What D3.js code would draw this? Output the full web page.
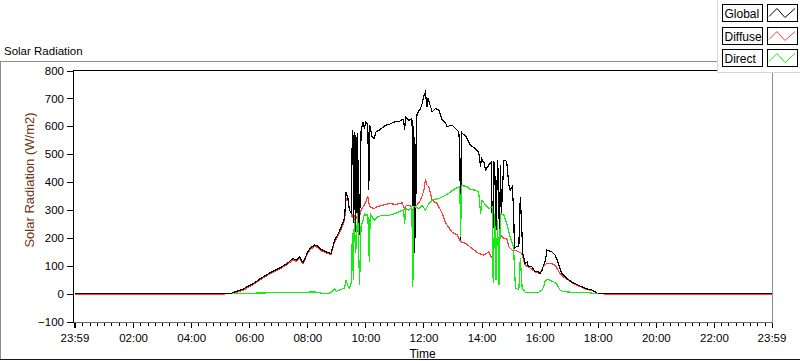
<!DOCTYPE html>
<html>
<head>
<meta charset="utf-8">
<script src="https://cdn.jsdelivr.net/npm/d3@7"></script>
<style>
body { margin: 0; background: #fff; }
svg { display: block; font-family: "Liberation Sans", Arial, sans-serif; }
</style>
</head>
<body>
<div id="chart"></div>
<script>
// chart texts
var chartLabel = "Solar Radiation";
var yTitle = "Solar Radiation (W/m2)";
var xTitle = "Time";
var seriesNames = ["Global", "Diffuse", "Direct"];

// axis ticks (x in minutes from midnight, first one is 23:59 of the day before)
var xTickMinutes = [-1, 120, 240, 360, 480, 600, 720, 840, 960, 1080, 1200, 1320, 1439];
var xTickLabels = ["23:59", "02:00", "04:00", "06:00", "08:00", "10:00", "12:00", "14:00", "16:00", "18:00", "20:00", "22:00", "23:59"];
var yTicks = [-100, 0, 100, 200, 300, 400, 500, 600, 700, 800];

// [time, W/m2]; null = gap in the trace
var globalData = [
  ["00:00",0],["05:20",0],["05:24",2],["05:47",16],["06:08",36],["06:25",56],["06:42",74],["07:03",92],
  ["07:20",110],["07:30",126],["07:37",120],["07:44",132],["07:51",110],["07:58",138],["08:05",162],
  ["08:15",174],["08:22",170],["08:29",158],["08:39",150],["08:49",144],["08:56",190],["09:06",222],
  ["09:17",270],["09:20",365],["09:24",340],["09:27",300],["09:31",287],["09:33",586],["09:35",560],
  ["09:36",252],["09:37",580],["09:38",300],["09:39",570],["09:40",220],["09:42",560],["09:43",280],
  ["09:44",575],["09:46",204],["09:48",230],["09:51",580],["09:55",616],["09:58",592],["10:01",616],
  ["10:05",604],["10:07",371],["10:09",604],["10:14",560],["10:18",556],["10:22",580],["10:29",586],
  ["10:35",595],["10:42",604],["10:49",606],["10:55",612],["11:02",616],["11:09",616],["11:16",624],
  ["11:19",624],["11:21",586],["11:23",634],["11:30",622],["11:36",628],["11:38",520],["11:39",150],
  ["11:40",600],["11:41",144],["11:42",560],["11:44",200],["11:45",620],["11:47",646],["11:54",664],
  ["11:57",680],["12:01",711],["12:04",723],["12:06",690],["12:07",669],["12:09",700],["12:11",690],
  ["12:18",652],["12:25",664],["12:32",658],["12:39",622],["12:46",610],["12:49",598],["12:56",604],
  ["12:59",604],["13:06",592],["13:10",586],["13:13",580],["13:15",514],["13:17",192],["13:18",580],
  ["13:20",574],["13:27",566],["13:30",556],["13:37",532],["13:47",520],["13:54",508],["13:58",455],
  ["14:00",490],["14:01",478],["14:05",470],["14:08",443],["14:15",461],["14:20",472],["14:23",168],
  ["14:25",472],["14:27",467],["14:30",228],["14:33",480],["14:35",407],["14:37",180],["14:39",460],
  ["14:41",287],["14:46",478],["14:49",478],["14:52",472],["14:56",395],["14:59",371],["15:03",383],
  ["15:06",311],["15:08",162],["15:12",168],["15:17",170],["15:20",347],["15:23",239],["15:25",144],
  ["15:30",108],["15:34",114],["15:37",96],["15:44",96],["15:51",78],["15:58",78],["16:01",72],
  ["16:05",84],["16:08",102],["16:12",120],["16:15",156],["16:18",155],["16:25",150],["16:32",138],
  ["16:39",108],["16:42",90],["16:46",72],["16:56",54],["17:06",42],["17:20",30],["17:34",19],
  ["17:48",13],["18:01",0],["23:59",0]
];

var diffuseData = [
  ["00:00",-3],["05:10",-3],["05:17",null],["05:24",0],["05:47",12],["06:08",32],["06:25",52],["06:42",70],
  ["07:03",88],["07:20",106],["07:30",121],["07:37",116],["07:44",128],["07:51",106],["07:58",134],
  ["08:05",157],["08:15",169],["08:22",165],["08:29",153],["08:39",146],["08:49",140],["08:56",184],
  ["09:06",215],["09:17",263],["09:20",340],["09:24",335],["09:27",300],["09:31",287],["09:33",270],
  ["09:35",287],["09:37",265],["09:39",285],["09:41",268],["09:43",280],["09:45",221],["09:48",275],
  ["09:51",299],["09:55",310],["09:58",317],["10:01",330],["10:05",347],["10:07",326],["10:10",311],
  ["10:18",305],["10:25",312],["10:35",317],["10:49",323],["11:02",320],["11:16",325],["11:21",305],
  ["11:24",315],["11:30",317],["11:36",311],["11:39",144],["11:41",228],["11:43",311],["11:50",325],
  ["11:54",335],["12:01",371],["12:04",409],["12:07",390],["12:11",383],["12:18",335],["12:28",323],
  ["12:39",287],["12:46",252],["12:59",221],["13:10",210],["13:17",186],["13:27",180],["13:40",162],
  ["13:54",144],["14:05",138],["14:15",150],["14:20",132],["14:22",126],["14:27",204],["14:33",192],
  ["14:39",210],["14:46",198],["14:52",198],["14:56",168],["15:03",156],["15:10",156],["15:23",144],
  ["15:30",102],["15:37",96],["15:51",78],["16:01",72],["16:08",100],["16:15",108],["16:25",108],
  ["16:32",102],["16:42",72],["16:49",60],["16:56",52],["17:06",40],["17:20",28],["17:34",17],
  ["17:48",11],["18:01",0],["18:06",null],["18:12",-3],["23:59",-3]
];

var directData = [
  ["05:24",0],["06:49",3],["07:20",4],["07:37",5],["07:44",3],["07:58",4],["08:05",6],["08:15",6],
  ["08:22",4],["08:29",1],["08:39",0],["08:49",3],["08:56",16],["09:00",8],["09:06",13],["09:17",20],
  ["09:20",48],["09:24",28],["09:27",20],["09:31",40],["09:33",216],["09:35",48],["09:37",263],
  ["09:40",144],["09:44",288],["09:48",30],["09:51",240],["09:55",263],["09:58",287],["10:01",280],
  ["10:05",285],["10:08",114],["10:10",287],["10:18",263],["10:25",275],["10:35",281],["10:49",281],
  ["11:02",287],["11:16",299],["11:19",300],["11:21",251],["11:24",305],["11:30",299],["11:36",311],
  ["11:38",24],["11:40",311],["11:43",311],["11:50",305],["11:57",317],["12:04",299],["12:11",323],
  ["12:18",335],["12:32",341],["12:46",353],["12:56",365],["13:06",377],["13:15",383],["13:17",204],
  ["13:18",387],["13:27",385],["13:30",383],["13:37",373],["13:47",371],["13:54",365],["13:58",287],
  ["14:01",335],["14:08",317],["14:15",305],["14:22",311],["14:24",37],["14:27",287],["14:30",48],
  ["14:33",263],["14:36",30],["14:39",287],["14:46",281],["14:52",251],["14:59",204],["15:06",168],
  ["15:10",19],["15:17",13],["15:20",126],["15:24",19],["15:30",5],["15:44",4],["15:58",5],
  ["16:05",13],["16:08",24],["16:12",48],["16:18",50],["16:29",42],["16:35",36],["16:42",13],
  ["16:49",7],["17:06",5],["17:34",4],["18:00",0]
];

var seriesColors = ["#000000", "#ff3c3c", "#12ee12"];

var width = 800, height = 361;
var plot = {left: 73, right: 772, top: 70, bottom: 322};

function toMin(s) {
  var p = s.split(":");
  return +p[0] * 60 + +p[1];
}

var svg = d3.select("#chart").append("svg")
  .attr("width", width)
  .attr("height", height);

// outer frame of the graph
svg.append("line").attr("x1", 0).attr("x2", width).attr("y1", 61.5).attr("y2", 61.5)
  .attr("stroke", "#8c8c8c");
svg.append("line").attr("x1", 0.5).attr("x2", 0.5).attr("y1", 61).attr("y2", 360)
  .attr("stroke", "#8c8c8c");
svg.append("line").attr("x1", 0).attr("x2", width).attr("y1", 359.5).attr("y2", 359.5)
  .attr("stroke", "#1a1a1a");

svg.append("text")
  .attr("x", 4).attr("y", 55)
  .style("font-size", "11.5px")
  .text(chartLabel);

var x = d3.scaleLinear().domain([-1, 1439]).range([74.5, 771.5]);
var y = d3.scaleLinear().domain([-100, 800]).range([321.5, 70.5]);

// plot frame
var frame = svg.append("g").attr("shape-rendering", "crispEdges");
frame.append("line").attr("x1", plot.left).attr("x2", plot.right).attr("y1", plot.top + 0.5).attr("y2", plot.top + 0.5).attr("stroke", "#000");
frame.append("line").attr("x1", plot.right + 0.5).attr("x2", plot.right + 0.5).attr("y1", plot.top).attr("y2", plot.bottom + 1).attr("stroke", "#8c8c8c");
frame.append("line").attr("x1", plot.left).attr("x2", plot.right).attr("y1", plot.bottom + 0.5).attr("y2", plot.bottom + 0.5).attr("stroke", "#6a6a6a");
frame.append("line").attr("x1", plot.left + 0.5).attr("x2", plot.left + 0.5).attr("y1", plot.top).attr("y2", plot.bottom + 1).attr("stroke", "#000");

// y axis
var yAxis = svg.append("g")
  .attr("transform", "translate(" + plot.left + ",0)")
  .call(d3.axisLeft(y).tickValues(yTicks).tickSize(6).tickPadding(3));
yAxis.select(".domain").remove();
yAxis.selectAll("line").attr("shape-rendering", "crispEdges");
yAxis.selectAll("text").style("font-size", "11.5px").style("font-family", null);

// x axis: minor ticks every 15 minutes, then the labelled ones
var minorTicks = d3.range(15, 1439, 15).filter(function(m) { return m % 120 != 0; });
var xMinor = svg.append("g")
  .attr("transform", "translate(0," + (plot.bottom + 1) + ")")
  .call(d3.axisBottom(x).tickValues(minorTicks).tickSize(3).tickFormat(""));
xMinor.select(".domain").remove();
xMinor.selectAll("line").attr("shape-rendering", "crispEdges");

var xAxis = svg.append("g")
  .attr("transform", "translate(0," + (plot.bottom + 1) + ")")
  .call(d3.axisBottom(x).tickValues(xTickMinutes).tickSize(5).tickPadding(6)
    .tickFormat(function(d, i) { return xTickLabels[i]; }));
xAxis.select(".domain").remove();
xAxis.selectAll("line").attr("shape-rendering", "crispEdges");
xAxis.select(".tick line").attr("stroke-width", 2);
xAxis.selectAll("text").style("font-size", "11.5px").style("font-family", null);

// axis titles
svg.append("text")
  .attr("transform", "translate(34,180) rotate(-90)")
  .attr("text-anchor", "middle")
  .style("font-size", "13px")
  .style("fill", "#6b3510")
  .text(yTitle);

svg.append("text")
  .attr("x", (plot.left + plot.right) / 2).attr("y", 358)
  .attr("text-anchor", "middle")
  .style("font-size", "12px")
  .text(xTitle);

// traces: diffuse under global, direct on top
var line = d3.line()
  .defined(function(d) { return d[1] !== null; })
  .x(function(d) { return x(toMin(d[0])); })
  .y(function(d) { return y(d[1]); });

var allData = [globalData, diffuseData, directData];
[1, 0, 2].forEach(function(i) {
  svg.append("path")
    .datum(allData[i])
    .attr("d", line)
    .attr("fill", "none")
    .attr("stroke", seriesColors[i])
    .attr("stroke-width", 1.2)
    .attr("shape-rendering", "crispEdges");
});

// legend box in the top right corner
var legend = svg.append("g").attr("shape-rendering", "crispEdges");
legend.append("rect")
  .attr("x", 717.5).attr("y", -1).attr("width", 90).attr("height", 73)
  .attr("fill", "#fff").attr("stroke", "#d6d6d6");

var rowTop = [4.5, 27.5, 49.5];
var swatch = d3.line();
seriesNames.forEach(function(name, i) {
  var t = rowTop[i];
  legend.append("rect")
    .attr("x", 722.5).attr("y", t).attr("width", 40).attr("height", 16.5)
    .attr("fill", "#fcfcfc").attr("stroke", "#000");
  legend.append("text")
    .attr("x", 724.5).attr("y", t + 13)
    .style("font-size", "12px")
    .text(name);
  legend.append("rect")
    .attr("x", 767.5).attr("y", t).attr("width", 29.5).attr("height", 16.5)
    .attr("fill", "#fff").attr("stroke", "#000");
  legend.append("path")
    .attr("d", swatch([[769, t + 12], [777, t + 4], [785, t + 13], [795, t + 4]]))
    .attr("fill", "none")
    .attr("stroke", seriesColors[i])
    .attr("shape-rendering", "auto");
});
</script>
</body>
</html>
